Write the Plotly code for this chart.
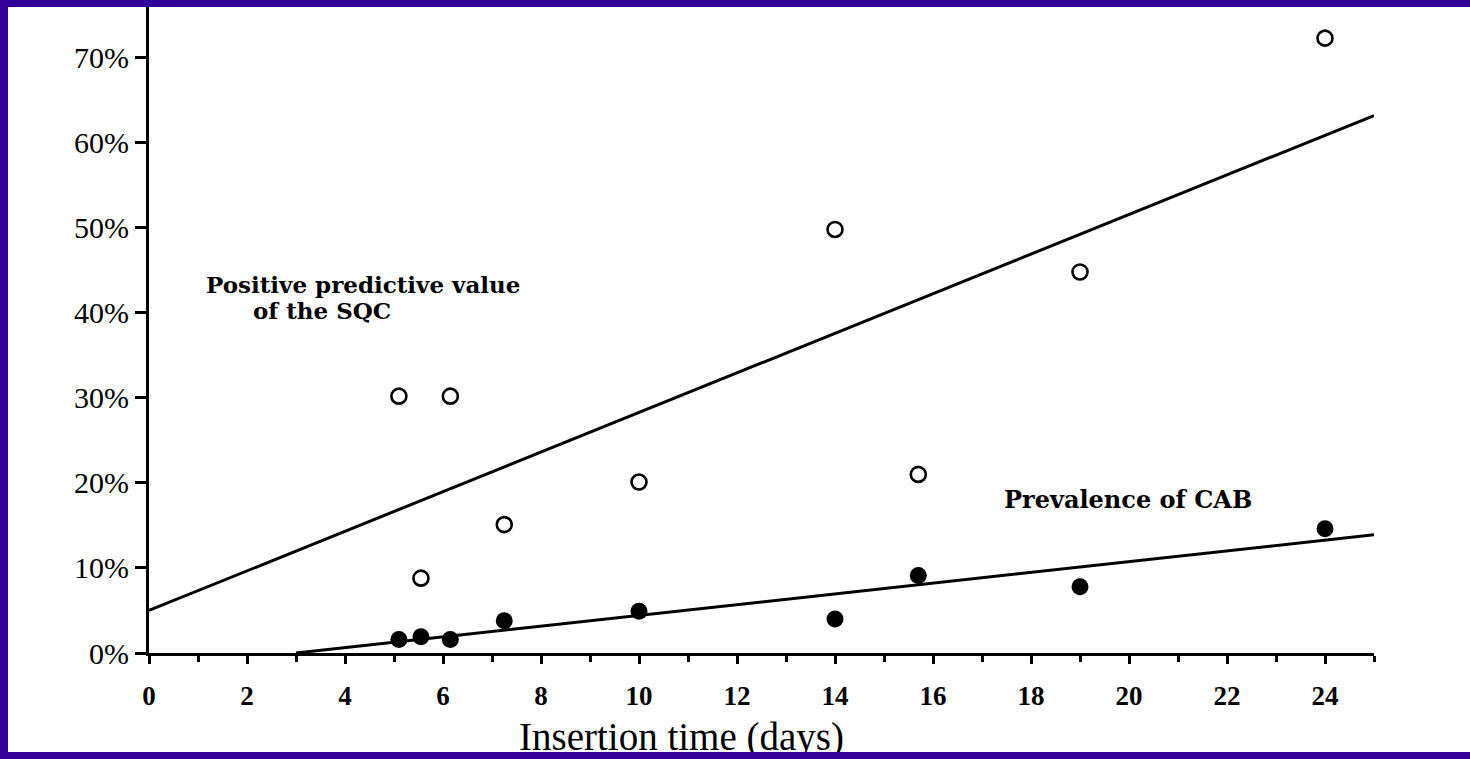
import plotly.graph_objects as go

# ---- data ----
ppv_days = [5.1, 5.55, 6.15, 7.25, 10.0, 14.0, 15.7, 19.0, 24.0]
ppv_pct = [30.2, 8.8, 30.2, 15.1, 20.1, 49.8, 21.0, 44.8, 72.3]

cab_days = [5.1, 5.55, 6.15, 7.25, 10.0, 14.0, 15.7, 19.0, 24.0]
cab_pct = [1.6, 1.9, 1.6, 3.8, 4.9, 4.0, 9.1, 7.8, 14.6]

ppv_fit_days = [0, 25]
ppv_fit_pct = [5.0, 63.2]
cab_fit_days = [3.0, 25]
cab_fit_pct = [0.0, 13.9]

x_tick_vals = list(range(0, 25, 2))
x_tick_text = [str(v) for v in x_tick_vals]
y_tick_vals = [0, 10, 20, 30, 40, 50, 60, 70]
y_tick_text = [f"{v}%" for v in y_tick_vals]

PURPLE = "#330099"
SERIF = "Liberation Serif"
LABEL_FONT = "DejaVu Serif"

fig = go.Figure()
fig.add_trace(go.Scatter(x=ppv_fit_days, y=ppv_fit_pct, mode="lines",
                         line=dict(color="black", width=3), cliponaxis=False,
                         showlegend=False, hoverinfo="skip"))
fig.add_trace(go.Scatter(x=cab_fit_days, y=cab_fit_pct, mode="lines",
                         line=dict(color="black", width=3), cliponaxis=False,
                         showlegend=False, hoverinfo="skip"))
fig.add_trace(go.Scatter(x=ppv_days, y=ppv_pct, mode="markers",
                         marker=dict(symbol="circle-open", size=15, color="black",
                                     line=dict(width=2.6, color="black")),
                         cliponaxis=False, showlegend=False))
fig.add_trace(go.Scatter(x=cab_days, y=cab_pct, mode="markers",
                         marker=dict(symbol="circle", size=17, color="black"),
                         cliponaxis=False, showlegend=False))

fig.update_xaxes(range=[0, 25], showline=True, linecolor="black", linewidth=3,
                 showgrid=False, zeroline=False,
                 tickmode="array", tickvals=x_tick_vals, ticktext=x_tick_text,
                 ticks="outside", ticklen=8, tickwidth=3, tickcolor="black",
                 ticklabelstandoff=9,
                 tickfont=dict(family=SERIF, size=27, color="black", weight="bold"),
                 minor=dict(dtick=1, tick0=0, ticks="outside", ticklen=6,
                            tickwidth=2.5, tickcolor="black", showgrid=False))
fig.update_yaxes(range=[0, 75.96], showline=True, linecolor="black", linewidth=3,
                 showgrid=False, zeroline=False,
                 tickmode="array", tickvals=y_tick_vals, ticktext=y_tick_text,
                 ticks="outside", ticklen=11, tickwidth=3, tickcolor="black",
                 ticklabelstandoff=0,
                 tickfont=dict(family=SERIF, size=30, color="black"))

PA_L, PA_T, PA_W, PA_H = 149, 7, 1225, 645.7


def px(xp):
    return (xp - PA_L) / PA_W


def py(yp):
    return 1 - (yp - PA_T) / PA_H


annos = [
    dict(text="Positive predictive value", x=px(204), y=py(284),
         xanchor="left", yanchor="middle",
         font=dict(family=LABEL_FONT, size=23, color="black", weight="bold")),
    dict(text="of the SQC", x=px(251), y=py(310),
         xanchor="left", yanchor="middle",
         font=dict(family=LABEL_FONT, size=23, color="black", weight="bold")),
    dict(text="Prevalence of CAB", x=px(1002), y=py(499), xanchor="left",
         yanchor="middle", font=dict(family=LABEL_FONT, size=24, color="black", weight="bold")),
    dict(text="Insertion time (days)", x=px(681), y=py(737), xanchor="center",
         yanchor="middle", font=dict(family=SERIF, size=39, color="black")),
    # bottom border band drawn over the title (clipped look)
    dict(text=" ", x=px(735), y=py(756), xanchor="center", yanchor="middle",
         width=1480, height=8, bgcolor=PURPLE, borderpad=0, borderwidth=0,
         font=dict(size=1)),
]
for a in annos:
    a.update(xref="paper", yref="paper", showarrow=False)
fig.update_layout(annotations=annos)

fig.add_shape(type="rect", xref="paper", yref="paper", x0=px(-5), x1=px(1480),
              y0=py(7), y1=py(-5), fillcolor=PURPLE, line_width=0, layer="above")
fig.add_shape(type="rect", xref="paper", yref="paper", x0=px(-5), x1=px(8),
              y0=py(765), y1=py(-5), fillcolor=PURPLE, line_width=0, layer="above")

fig.update_layout(width=1470, height=759, autosize=False,
                  margin=dict(l=PA_L, r=1470 - PA_L - PA_W, t=PA_T, b=759 - PA_T - PA_H),
                  paper_bgcolor="white", plot_bgcolor="white")

fig.write_html("out.html")
